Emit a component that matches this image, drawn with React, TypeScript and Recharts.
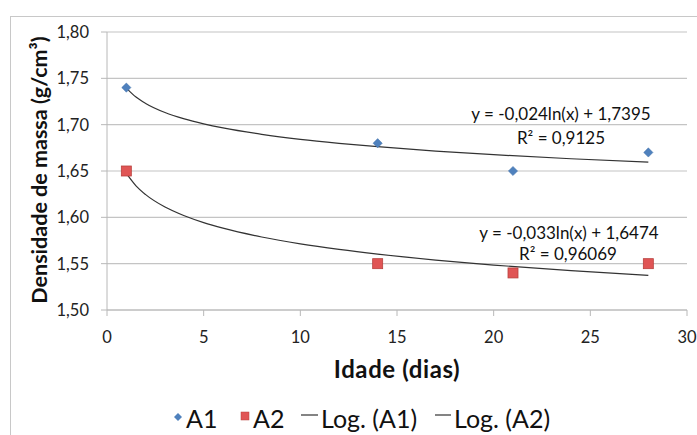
import React from "react";
import { ComposedChart, Line, Scatter, XAxis, YAxis, CartesianGrid } from "recharts";

const days = [1, 14, 21, 28];
const a1Values = [1.74, 1.68, 1.65, 1.67];
const a2Values = [1.65, 1.55, 1.54, 1.55];

const trendDays = [1, 1.5, 2, 3, 4, 5, 6, 8, 10, 12, 14, 17, 20, 24, 28];
const trendA1 = [1.7395, 1.7298, 1.7229, 1.7131, 1.7062, 1.7009, 1.6965, 1.6896, 1.6842, 1.6799, 1.6762, 1.6715, 1.6676, 1.6632, 1.6595];
const trendA2 = [1.6474, 1.634, 1.6245, 1.6111, 1.6017, 1.5943, 1.5883, 1.5788, 1.5714, 1.5654, 1.5603, 1.5539, 1.5485, 1.5425, 1.5374];

const xTicks = [0, 5, 10, 15, 20, 25, 30];
const yTicks = [1.5, 1.55, 1.6, 1.65, 1.7, 1.75, 1.8];

const seriesNames = ["A1", "A2", "Log. (A1)", "Log. (A2)"];
const eq1 = ["y = -0,024ln(x) + 1,7395", "R² = 0,9125"];
const eq2 = ["y = -0,033ln(x) + 1,6474", "R² = 0,96069"];

const a1Data = days.map((x, i) => ({ x, y: a1Values[i] }));
const a2Data = days.map((x, i) => ({ x, y: a2Values[i] }));
const t1Data = trendDays.map((x, i) => ({ x, y: trendA1[i] }));
const t2Data = trendDays.map((x, i) => ({ x, y: trendA2[i] }));

const FONT = "Lato, 'Open Sans', sans-serif";
const BLUE = "#4f81bd";
const RED = "#e05555";
const RED_EDGE = "#b8403d";

const Diamond = (props: any) => {
  const { cx, cy } = props;
  const r = 4.6;
  return <polygon points={`${cx},${cy - r} ${cx + r},${cy} ${cx},${cy + r} ${cx - r},${cy}`} fill={BLUE} stroke="#3f6fa8" strokeWidth={0.5} />;
};

const Square = (props: any) => {
  const { cx, cy } = props;
  const s = 10;
  return <rect x={cx - s / 2} y={cy - s / 2} width={s} height={s} fill={RED} stroke={RED_EDGE} strokeWidth={0.8} />;
};

const fmt = (v: number) => v.toFixed(2).replace(".", ",");

export default function App() {
  return (
    <div style={{ position: "absolute", left: 0, top: 0, width: 697, height: 435, background: "#fff", overflow: "hidden", fontFamily: FONT }}>
      <div style={{ position: "absolute", left: 10, top: 16, width: 720, height: 460, border: "1.5px solid #c8c8c8", boxSizing: "border-box" }} />
      <div style={{ position: "absolute", left: 0, top: 0 }}>
        <ComposedChart width={697} height={435} margin={{ top: 32, right: 10, bottom: 95, left: 0 }}>
          <CartesianGrid horizontal={true} vertical={false} stroke="#c4c4c4" strokeWidth={1.2} />
          <XAxis
            type="number"
            dataKey="x"
            domain={[0, 30]}
            ticks={xTicks}
            height={30}
            allowDataOverflow
            stroke="#b8b8b8"
            tickSize={6}
            tickMargin={15}
            tick={{ fill: "#222", fontSize: 16.5, fontFamily: FONT }}
            label={{
              content: () => (
                <text x={397} y={368} textAnchor="middle" dominantBaseline="central" style={{ fontSize: 24, letterSpacing: 0.6, fontWeight: 700, fill: "#111", fontFamily: FONT }}>
                  Idade (dias)
                </text>
              ),
            }}
          />
          <YAxis
            type="number"
            dataKey="y"
            domain={[1.5, 1.8]}
            ticks={yTicks}
            width={107}
            allowDataOverflow
            stroke="#b8b8b8"
            tickSize={6}
            tickMargin={12}
            tickFormatter={fmt}
            tick={{ fill: "#222", fontSize: 16.5, fontFamily: FONT }}
            label={{
              content: () => (
                <text x={39} y={170} transform="rotate(-90 39 170)" textAnchor="middle" dominantBaseline="central" style={{ fontSize: 21.5, fontWeight: 700, fill: "#111", fontFamily: FONT }}>
                  Densidade de massa (g/cm³)
                </text>
              ),
            }}
          />
          <Line data={t1Data} dataKey="y" type="monotone" stroke="#333" strokeWidth={1.2} dot={false} isAnimationActive={false} />
          <Line data={t2Data} dataKey="y" type="monotone" stroke="#333" strokeWidth={1.2} dot={false} isAnimationActive={false} />
          <Scatter data={a1Data} dataKey="y" shape={<Diamond />} isAnimationActive={false} />
          <Scatter data={a2Data} dataKey="y" shape={<Square />} isAnimationActive={false} />
        </ComposedChart>
      </div>
      <svg width={697} height={435} style={{ position: "absolute", left: 0, top: 0, pointerEvents: "none" }}>
        <g style={{ fontFamily: FONT, fontSize: 17, fill: "#111" }}>
          <text x={561} y={113} textAnchor="middle" dominantBaseline="central">{eq1[0]}</text>
          <text x={561} y={137} textAnchor="middle" dominantBaseline="central">{eq1[1]}</text>
          <text x={569} y={232} textAnchor="middle" dominantBaseline="central">{eq2[0]}</text>
          <text x={568} y={253} textAnchor="middle" dominantBaseline="central">{eq2[1]}</text>
        </g>
        <g style={{ fontFamily: FONT, fontSize: 25, fill: "#111" }}>
          <polygon points="178,413 182,417 178,421 174,417" fill={BLUE} />
          <text x={186} y={418} dominantBaseline="central">{seriesNames[0]}</text>
          <rect x={241} y={412} width={8} height={8} fill={RED} stroke={RED_EDGE} strokeWidth={0.5} />
          <text x={253} y={418} dominantBaseline="central">{seriesNames[1]}</text>
          <line x1={301} y1={415} x2={318} y2={415} stroke="#333" strokeWidth={1.2} />
          <text x={321} y={418} dominantBaseline="central">{seriesNames[2]}</text>
          <line x1={435} y1={415} x2={451} y2={415} stroke="#333" strokeWidth={1.2} />
          <text x={454} y={418} dominantBaseline="central">{seriesNames[3]}</text>
        </g>
      </svg>
    </div>
  );
}
